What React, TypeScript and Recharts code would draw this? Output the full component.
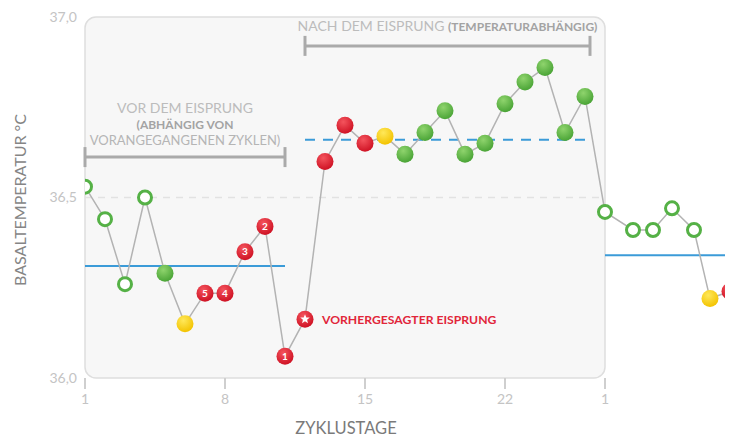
import React from 'react';
import { LineChart, Line, XAxis, YAxis, ReferenceArea, ReferenceLine } from 'recharts';

// cycle days (positions after the new "1")
const days = [
  1, 2, 3, 4, 5, 6, 7, 8, 9, 10, 11, 12, 13, 14, 15, 16, 17, 18, 19, 20, 21, 22, 23, 24, 25, 26,
  27, 28.4, 29.4, 30.35, 31.45, 32.25, 33.25,
];
const temps = [
  36.53, 36.44, 36.26, 36.5, 36.29, 36.15, 36.235, 36.235, 36.35, 36.42, 36.06, 36.163, 36.6,
  36.7, 36.65, 36.67, 36.62, 36.68, 36.74, 36.62, 36.65, 36.76, 36.82, 36.86, 36.68, 36.78,
  36.46, 36.41, 36.41, 36.47, 36.41, 36.22, 36.24,
];
// open = hollow marker, green / yellow / red = filled markers
const kinds = [
  'open', 'open', 'open', 'open', 'green', 'yellow', 'red', 'red', 'red', 'red', 'red', 'star', 'red',
  'red', 'red', 'yellow', 'green', 'green', 'green', 'green', 'green', 'green', 'green', 'green', 'green', 'green',
  'open', 'open', 'open', 'open', 'open', 'yellow', 'red',
];
const marks = ['', '', '', '', '', '', '5', '4', '3', '2', '1'];

const xTicks = [1, 8, 15, 22, 27];
const yTicks = [36, 36.5, 37];

const coverLine = 36.31;
const highLine = 36.66;
const nextCoverLine = 36.34;

const data = days.map((d, i) => ({ day: d, temp: temps[i], kind: kinds[i], mark: marks[i] || '' }));

const FONT = 'Lato, "Open Sans", sans-serif';

const colors: Record<string, [string, string]> = {
  green: ['#8fd46d', '#4aa436'],
  yellow: ['#ffe85a', '#f3c300'],
  red: ['#f4545d', '#cf1224'],
  star: ['#f4545d', '#cf1224'],
};

const starPath = (cx: number, cy: number, R: number, r: number) => {
  const pts: string[] = [];
  for (let k = 0; k < 10; k++) {
    const a = -Math.PI / 2 + (k * Math.PI) / 5;
    const rad = k % 2 === 0 ? R : r;
    pts.push(`${cx + rad * Math.cos(a)},${cy + rad * Math.sin(a)}`);
  }
  return pts.join(' ');
};

const renderDot = (props: any) => {
  const { cx, cy, payload, index } = props;
  if (cx == null || cy == null) return <g key={index} />;
  const kind = payload.kind;
  if (kind === 'open') {
    return (
      <circle key={index} cx={cx} cy={cy} r={6.5} fill="#fff" stroke="#55b146" strokeWidth={3} />
    );
  }
  const [c1, c2] = colors[kind];
  const gid = `g${index}`;
  return (
    <g key={index}>
      <defs>
        <radialGradient id={gid} cx="40%" cy="30%" r="70%">
          <stop offset="0%" stopColor={c1} />
          <stop offset="100%" stopColor={c2} />
        </radialGradient>
      </defs>
      <circle cx={cx} cy={cy} r={8.5} fill={`url(#${gid})`} />
      {payload.mark && (
        <text x={cx} y={cy + 3.5} textAnchor="middle" fill="#fff" fontSize={10} fontWeight={700} fontFamily={FONT}>
          {payload.mark}
        </text>
      )}
      {kind === 'star' && (
        <>
          <polygon points={starPath(cx, cy, 5, 2.2)} fill="#fff" />
          <text x={cx + 17} y={cy + 4.5} fill="#e1263a" fontSize={12.2} fontWeight={700} fontFamily={FONT}>
            VORHERGESAGTER EISPRUNG
          </text>
        </>
      )}
    </g>
  );
};

const Bracket = (props: any, lines: React.ReactNode) => {
  const { x1, y1, x2 } = props;
  return (
    <g>
      <line x1={x1} y1={y1} x2={x2} y2={y1} stroke="#aaa" strokeWidth={3} />
      <line x1={x1} y1={y1 - 10} x2={x1} y2={y1 + 10} stroke="#aaa" strokeWidth={3} />
      <line x1={x2} y1={y1 - 10} x2={x2} y2={y1 + 10} stroke="#aaa" strokeWidth={3} />
      {lines}
    </g>
  );
};

export default function App() {
  return (
    <div style={{ margin: -8, width: 733, height: 446, overflow: 'hidden', background: '#fff' }}>
      <LineChart
        width={733}
        height={446}
        data={data}
        margin={{ top: 17, right: 0, bottom: 0, left: 0 }}
        style={{ fontFamily: FONT }}
      >
        <XAxis
          dataKey="day"
          type="number"
          domain={[1, 33.4]}
          ticks={xTicks}
          tickFormatter={(v: number) => (v === 27 ? '1' : String(v))}
          axisLine={false}
          tickSize={11}
          tickMargin={5}
          tickLine={{ stroke: '#cfcfcf', strokeWidth: 2 }}
          tick={{ fill: '#c4c4c4', fontSize: 14 }}
          height={68}
          allowDataOverflow
          label={{
            content: (p: any) => (
              <text x={p.viewBox.x + 261} y={434} textAnchor="middle" fill="#7a7a7a" fontSize={16.5} fontFamily={FONT}>
                ZYKLUSTAGE
              </text>
            ),
          }}
        />
        <YAxis
          domain={[36, 37]}
          ticks={yTicks}
          tickFormatter={(v: number) => v.toFixed(1).replace('.', ',')}
          axisLine={false}
          tickLine={false}
          width={85}
          tick={{ fill: '#c4c4c4', fontSize: 14 }}
          label={{
            content: () => (
              <text
                x={26}
                y={200}
                transform="rotate(-90 26 200)"
                textAnchor="middle"
                fill="#858585"
                fontSize={16}
                fontFamily={FONT}
              >
                BASALTEMPERATUR °C
              </text>
            ),
          }}
        />
        <ReferenceArea
          x1={1}
          x2={27}
          y1={36}
          y2={37}
          shape={(p: any) => (
            <rect x={p.x} y={p.y} width={p.width} height={p.height} rx={11} fill="#f7f7f7" stroke="#dedede" strokeWidth={1.5} />
          )}
        />
        <ReferenceLine
          segment={[{ x: 1, y: 36.5 }, { x: 27, y: 36.5 }]}
          stroke="#e2e2e2"
          strokeWidth={1.5}
          strokeDasharray="7 6"
        />
        <ReferenceLine
          segment={[{ x: 1, y: coverLine }, { x: 11, y: coverLine }]}
          stroke="#3b9bd8"
          strokeWidth={2}
        />
        <ReferenceLine
          segment={[{ x: 12, y: highLine }, { x: 26.3, y: highLine }]}
          stroke="#3b9bd8"
          strokeWidth={2}
          strokeDasharray="10 8"
        />
        <ReferenceLine
          segment={[{ x: 27, y: nextCoverLine }, { x: 33.4, y: nextCoverLine }]}
          stroke="#3b9bd8"
          strokeWidth={2}
        />
        <ReferenceLine
          segment={[{ x: 1, y: 36.612 }, { x: 11, y: 36.612 }]}
          shape={(p: any) =>
            Bracket(
              p,
              <text textAnchor="middle" fontFamily={FONT}>
                <tspan x={(p.x1 + p.x2) / 2} y={p.y1 - 44} fill="#bcbcbc" fontSize={14}>
                  VOR DEM EISPRUNG
                </tspan>
                <tspan x={(p.x1 + p.x2) / 2} y={p.y1 - 28} fill="#a3a3a3" fontSize={12} fontWeight={700}>
                  (ABHÄNGIG VON
                </tspan>
                <tspan x={(p.x1 + p.x2) / 2} y={p.y1 - 12} fill="#b5b5b5" fontSize={13}>
                  VORANGEGANGENEN ZYKLEN)
                </tspan>
              </text>
            )
          }
        />
        <ReferenceLine
          segment={[{ x: 12, y: 36.92 }, { x: 26.25, y: 36.92 }]}
          shape={(p: any) =>
            Bracket(
              p,
              <text x={(p.x1 + p.x2) / 2} y={p.y1 - 15} textAnchor="middle" fontFamily={FONT}>
                <tspan fill="#bcbcbc" fontSize={14}>NACH DEM EISPRUNG </tspan>
                <tspan fill="#a3a3a3" fontSize={12} fontWeight={700}>(TEMPERATURABHÄNGIG)</tspan>
              </text>
            )
          }
        />
        <Line
          dataKey="temp"
          stroke="#b3b3b3"
          strokeWidth={1.5}
          dot={renderDot}
          activeDot={false}
          isAnimationActive={false}
        />
      </LineChart>
    </div>
  );
}
